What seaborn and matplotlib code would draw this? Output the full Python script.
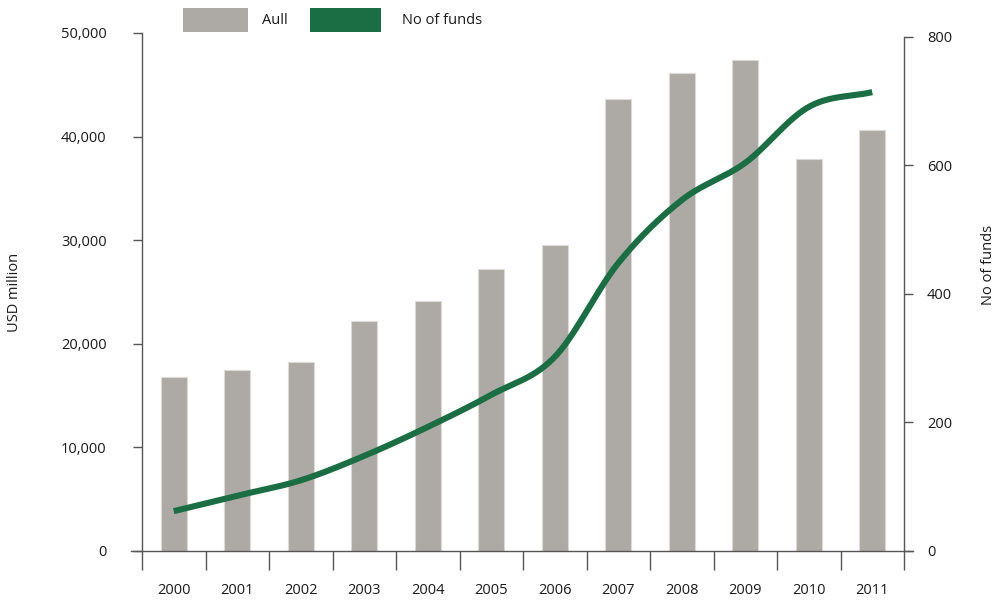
import numpy as np
import pandas as pd
import matplotlib
matplotlib.use("Agg")
import matplotlib.pyplot as plt
from matplotlib.patches import Rectangle
from matplotlib.ticker import FuncFormatter, FixedLocator
import seaborn as sns

# Data
years = ["2000", "2001", "2002", "2003", "2004", "2005",
         "2006", "2007", "2008", "2009", "2010", "2011"]
aum_usd_mn = [16800, 17470, 18270, 22230, 24130, 27220,
              29540, 43600, 46170, 47400, 37810, 40640]
num_funds = [62, 86, 110, 148, 193, 243,
             302, 448, 546, 604, 691, 714]

left_ticks = [0, 10000, 20000, 30000, 40000, 50000]
right_ticks = [0, 200, 400, 600, 800]

BAR_GREY = "#adaaa5"
BAR_EDGE = "#dcdad6"
GREEN = "#1b6e44"
AXIS_COL = "#555555"
TEXT_COL = "#1a1a1a"

sns.set_theme(style="white")
plt.rcParams["font.family"] = ["Open Sans", "DejaVu Sans"]
plt.rcParams["axes.edgecolor"] = AXIS_COL

df = pd.DataFrame({"year": years, "aum": aum_usd_mn, "funds": num_funds})

fig = plt.figure(figsize=(9.98, 6.01), dpi=100)
W, H = 998, 601
ax = fig.add_axes([142 / W, 1 - 551 / H, (904 - 142) / W, (551 - 33) / H])

sns.barplot(data=df, x="year", y="aum", ax=ax, color=BAR_GREY, saturation=1,
            width=0.41, edgecolor=BAR_EDGE, linewidth=0.8)
ax.set_xlim(-0.5, len(years) - 0.5)
ax.set_ylim(0, 50000)


def catmull_rom(xv, yv, n=30):
    """Smooth curve passing through every (x, y) point."""
    xv = np.asarray(xv, float)
    yv = np.asarray(yv, float)
    px = np.concatenate([[2 * xv[0] - xv[1]], xv, [2 * xv[-1] - xv[-2]]])
    py = np.concatenate([[2 * yv[0] - yv[1]], yv, [2 * yv[-1] - yv[-2]]])
    t = np.linspace(0, 1, n, endpoint=False)
    out_x, out_y = [], []
    for i in range(1, len(px) - 2):
        for arr, out in ((px, out_x), (py, out_y)):
            p0, p1, p2, p3 = arr[i - 1], arr[i], arr[i + 1], arr[i + 2]
            out.append(0.5 * ((2 * p1) + (-p0 + p2) * t
                              + (2 * p0 - 5 * p1 + 4 * p2 - p3) * t ** 2
                              + (-p0 + 3 * p1 - 3 * p2 + p3) * t ** 3))
    out_x.append([xv[-1]])
    out_y.append([yv[-1]])
    return np.concatenate(out_x), np.concatenate(out_y)


ax2 = ax.twinx()
sx, sy = catmull_rom(np.arange(len(years)), num_funds)
ax2.plot(sx, sy, color=GREEN, lw=4.4, solid_capstyle="butt", zorder=3)
ax2.set_ylim(0, 806)
ax2.set_xlim(-0.5, len(years) - 0.5)

# Spines
for a in (ax, ax2):
    a.spines["top"].set_visible(False)
    for s in a.spines.values():
        s.set_linewidth(1.0)
        s.set_color(AXIS_COL)
ax.spines["right"].set_visible(False)
ax2.spines["left"].set_visible(False)
ax2.spines["bottom"].set_visible(False)
ax2.spines["right"].set_bounds(0, 800)
ax.spines["left"].set_bounds(0, 50000)
ax.spines["bottom"].set_bounds(-0.67, len(years) - 0.36)

# Left axis ticks
ax.yaxis.set_major_locator(FixedLocator(left_ticks))
ax.yaxis.set_major_formatter(FuncFormatter(lambda v, p: f"{int(v):,}"))
ax.tick_params(axis="y", which="major", direction="out", length=6.5, width=1.0,
               color=AXIS_COL, pad=19, labelsize=10.5, labelcolor=TEXT_COL,
               left=True)

# Right axis ticks
ax2.yaxis.set_major_locator(FixedLocator(right_ticks))
ax2.tick_params(axis="y", which="major", direction="out", length=6.5, width=1.0,
                color=AXIS_COL, pad=10, labelsize=10.5, labelcolor=TEXT_COL,
                right=True)

# X axis: boundary ticks, labels centred on each category
ax.xaxis.set_major_locator(FixedLocator(np.arange(len(years) + 1) - 0.5))
ax.xaxis.set_minor_locator(FixedLocator(np.arange(len(years))))
ax.set_xticklabels([], minor=False)
ax.set_xticklabels(years, minor=True)
ax.tick_params(axis="x", which="major", direction="out", length=13.5, width=1.0,
               color=AXIS_COL, bottom=True)
ax.tick_params(axis="x", which="minor", length=0, pad=23, labelsize=10.5,
               labelcolor=TEXT_COL, bottom=True)
ax2.tick_params(axis="x", which="both", bottom=False, labelbottom=False)

ax.set_xlabel("")
ax.set_ylabel("")
ax2.set_ylabel("")

fig.text(15 / W, 1 - 292 / H, "USD million", rotation=90, ha="center",
         va="center", fontsize=10.5, color=TEXT_COL)
fig.text(989 / W, 1 - 265 / H, "No of funds", rotation=90, ha="center",
         va="center", fontsize=10.5, color=TEXT_COL)

# Legend keys across the top
legend_items = [("Aull", BAR_GREY, 183, 248, 262),
                ("No of funds", GREEN, 310, 381, 402)]
for label, colour, x0, x1, tx in legend_items:
    fig.patches.append(Rectangle((x0 / W, 1 - 32 / H), (x1 - x0) / W, 24 / H,
                                 transform=fig.transFigure, facecolor=colour,
                                 edgecolor="none"))
    fig.text(tx / W, 1 - 21 / H, label, ha="left", va="center",
             fontsize=10.5, color=TEXT_COL)

fig.savefig("out.png", dpi=100)
